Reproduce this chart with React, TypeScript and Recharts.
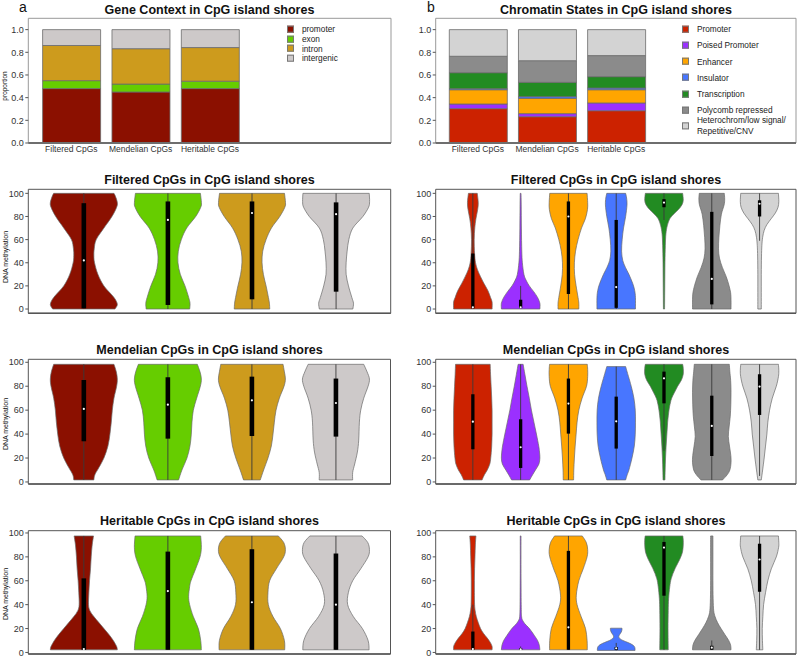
import React from "react";
import { ComposedChart, Bar, Cell, XAxis, YAxis, ReferenceArea, ReferenceLine } from "recharts";

const FONT = "'Liberation Sans', Arial, Helvetica, sans-serif";

const cpgSets = ["Filtered CpGs", "Mendelian CpGs", "Heritable CpGs"];

const geneGroups = ["promoter", "exon", "intron", "intergenic"];
const geneColors = ["#8B1000", "#66CD00", "#CD9B1D", "#CDC9C9"];

const chromStates = [
  "Promoter",
  "Poised Promoter",
  "Enhancer",
  "Insulator",
  "Transcription",
  "Polycomb repressed",
  "Heterochrom/low signal/\nRepetitive/CNV",
];
const chromColors = ["#CC2200", "#9B30FF", "#FFA500", "#4876FF", "#228B22", "#8B8B8B", "#D3D3D3"];

// stacked proportions, bottom to top
const geneFiltered = [0.48, 0.07, 0.31, 0.14];
const geneMendelian = [0.45, 0.07, 0.312, 0.168];
const geneHeritable = [0.48, 0.065, 0.297, 0.158];

const chromFiltered = [0.303, 0.041, 0.126, 0.009, 0.141, 0.145, 0.235];
const chromMendelian = [0.232, 0.027, 0.135, 0.015, 0.126, 0.191, 0.274];
const chromHeritable = [0.285, 0.068, 0.117, 0.015, 0.1, 0.186, 0.229];

// violin stats: [min, whiskerLo, q1, median, q3, whiskerHi, max]
// violin density: [value, relative half width]
const filteredGeneStats = [
  [0, 0, 0.6, 42, 91.5, 100, 100],
  [0, 0, 3.5, 77, 93, 100, 100],
  [0, 0, 8.4, 83, 93, 100, 100],
  [0, 0, 15, 82, 92.2, 100, 100],
];
const filteredGeneDensity = [
  [[0, 0.93], [4, 1.0], [10, 0.9], [20, 0.6], [30, 0.42], [40, 0.32], [46, 0.3], [52, 0.31], [60, 0.37], [70, 0.6], [80, 0.84], [88, 0.98], [92, 1.0], [97, 0.95], [100, 0.9]],
  [[0, 0.65], [5, 0.66], [10, 0.62], [20, 0.51], [30, 0.37], [40, 0.3], [50, 0.31], [60, 0.4], [70, 0.56], [80, 0.83], [88, 0.98], [92, 1.0], [100, 0.97]],
  [[0, 0.53], [5, 0.52], [10, 0.49], [20, 0.42], [30, 0.34], [40, 0.3], [50, 0.32], [60, 0.42], [70, 0.58], [80, 0.83], [88, 0.98], [92, 1.0], [100, 0.97]],
  [[0, 0.5], [5, 0.52], [10, 0.47], [20, 0.37], [30, 0.3], [40, 0.3], [50, 0.33], [60, 0.38], [70, 0.5], [80, 0.8], [88, 0.97], [93, 1.0], [100, 0.99]],
];

const filteredChromStats = [
  [0, 0, 0.5, 1.5, 48, 100, 100],
  [0, 0, 0.8, 1.5, 8, 20, 100],
  [0, 0, 13, 80, 93, 100, 100],
  [0, 0, 1, 19, 77, 100, 100],
  [0, 77, 88, 92, 95, 100, 100],
  [0, 0, 4, 26, 84, 100, 100],
  [0, 59, 80, 91, 94, 100, 100],
];
const filteredChromDensity = [
  [[0, 1.0], [6, 1.0], [10, 0.92], [16, 0.78], [22, 0.58], [28, 0.4], [34, 0.24], [40, 0.14], [48, 0.09], [60, 0.07], [70, 0.1], [78, 0.16], [86, 0.25], [92, 0.28], [100, 0.23]],
  [[0, 1.0], [5, 1.0], [10, 0.88], [15, 0.68], [20, 0.45], [25, 0.28], [30, 0.17], [40, 0.09], [50, 0.06], [70, 0.04], [90, 0.03], [100, 0.02]],
  [[0, 0.54], [5, 0.54], [10, 0.5], [20, 0.4], [30, 0.32], [40, 0.31], [50, 0.37], [60, 0.5], [70, 0.68], [78, 0.88], [86, 0.99], [92, 1.0], [100, 0.97]],
  [[0, 1.0], [10, 1.0], [16, 0.96], [22, 0.86], [30, 0.66], [36, 0.48], [42, 0.34], [50, 0.28], [60, 0.31], [70, 0.38], [80, 0.49], [90, 0.56], [96, 0.54], [100, 0.49]],
  [[0, 0.03], [20, 0.04], [40, 0.05], [55, 0.07], [65, 0.1], [72, 0.17], [78, 0.3], [82, 0.5], [86, 0.75], [90, 0.93], [94, 1.0], [100, 0.97]],
  [[0, 1.0], [8, 1.0], [14, 0.98], [20, 0.9], [28, 0.75], [36, 0.55], [44, 0.4], [52, 0.35], [62, 0.37], [72, 0.42], [82, 0.5], [90, 0.64], [95, 0.67], [100, 0.65]],
  [[0, 0.09], [10, 0.09], [30, 0.09], [45, 0.1], [55, 0.12], [62, 0.16], [68, 0.24], [73, 0.38], [78, 0.6], [83, 0.82], [88, 0.96], [93, 1.0], [100, 0.98]],
];

const mendelianGeneStats = [
  [1.7, 1.7, 34, 61, 85.2, 98.3, 98.3],
  [1.7, 1.7, 36.2, 64.6, 87.5, 98.3, 98.3],
  [1.7, 1.7, 38.4, 68.2, 88, 98.3, 98.3],
  [1.7, 1.7, 37.9, 66, 86.4, 98.3, 98.3],
];
const mendelianGeneDensity = [
  [[1.7, 0.3], [6, 0.33], [12, 0.45], [20, 0.6], [30, 0.72], [40, 0.78], [50, 0.82], [60, 0.85], [70, 0.9], [80, 0.98], [86, 1.0], [92, 0.97], [98.3, 0.9]],
  [[1.7, 0.32], [10, 0.42], [20, 0.57], [30, 0.66], [40, 0.7], [50, 0.72], [60, 0.76], [70, 0.86], [80, 0.97], [86, 1.0], [92, 0.96], [98.3, 0.88]],
  [[1.7, 0.25], [10, 0.35], [20, 0.48], [30, 0.58], [40, 0.63], [50, 0.67], [60, 0.72], [70, 0.82], [80, 0.96], [86, 1.0], [92, 0.97], [98.3, 0.93]],
  [[1.7, 0.5], [8, 0.5], [15, 0.56], [25, 0.64], [35, 0.68], [50, 0.7], [60, 0.74], [70, 0.83], [80, 0.96], [86, 1.0], [92, 0.93], [98.3, 0.83]],
];

const mendelianChromStats = [
  [1.7, 1.7, 27.3, 50.4, 73.3, 98.3, 98.3],
  [1.7, 1.7, 11.7, 29, 52.4, 98.3, 98.3],
  [1.7, 1.7, 40.4, 65.5, 86.4, 98.3, 98.3],
  [1.7, 1.7, 27.9, 50.7, 71.3, 96.4, 96.4],
  [1.7, 26, 65.7, 86.6, 92.2, 98.3, 98.3],
  [1.7, 1.7, 21.7, 46.8, 72.1, 98.3, 98.3],
  [1.7, 5, 56, 79.7, 90, 98.3, 98.3],
];
const mendelianChromDensity = [
  [[1.7, 0.48], [6, 0.6], [10, 0.75], [15, 0.88], [20, 0.93], [30, 0.98], [40, 1.0], [50, 1.0], [60, 1.0], [70, 0.98], [80, 0.95], [90, 0.92], [98.3, 0.9]],
  [[1.7, 0.47], [6, 0.62], [10, 0.77], [15, 0.95], [20, 1.0], [25, 0.98], [30, 0.94], [40, 0.82], [50, 0.69], [60, 0.56], [70, 0.45], [80, 0.33], [90, 0.22], [98.3, 0.13]],
  [[1.7, 0.27], [10, 0.28], [20, 0.31], [30, 0.35], [40, 0.4], [50, 0.45], [60, 0.54], [70, 0.71], [80, 0.94], [88, 1.0], [94, 1.0], [98.3, 0.98]],
  [[1.7, 0.49], [6, 0.57], [10, 0.66], [20, 0.82], [30, 0.94], [40, 0.99], [50, 1.0], [60, 0.99], [70, 0.92], [80, 0.78], [88, 0.64], [93, 0.55], [96.4, 0.49]],
  [[1.7, 0.05], [10, 0.06], [20, 0.08], [30, 0.11], [40, 0.15], [50, 0.19], [60, 0.26], [66, 0.33], [70, 0.4], [75, 0.55], [80, 0.71], [85, 0.9], [90, 1.0], [95, 1.0], [98.3, 0.97]],
  [[1.7, 0.56], [6, 0.8], [10, 0.94], [16, 1.0], [22, 0.99], [30, 0.92], [38, 0.86], [46, 0.9], [55, 0.96], [65, 0.99], [75, 1.0], [85, 0.98], [92, 0.94], [98.3, 0.91]],
  [[1.7, 0.09], [10, 0.16], [20, 0.24], [30, 0.31], [40, 0.38], [50, 0.43], [60, 0.52], [70, 0.66], [80, 0.87], [88, 0.98], [93, 1.0], [98.3, 0.98]],
];

const heritableGeneStats = [
  [2.2, 2.2, 2.2, 2.8, 62, 97.5, 97.5],
  [2.2, 2.2, 2.2, 51.4, 84.4, 97.5, 97.5],
  [2.2, 2.2, 2.2, 42, 86.4, 97.5, 97.5],
  [2.2, 2.2, 2.2, 40, 82.8, 97.5, 97.5],
];
const heritableGeneDensity = [
  [[2.2, 1.0], [5, 0.98], [10, 0.88], [15, 0.75], [20, 0.6], [25, 0.45], [30, 0.3], [35, 0.18], [40, 0.14], [50, 0.15], [60, 0.17], [70, 0.2], [80, 0.22], [90, 0.25], [97.5, 0.29]],
  [[2.2, 1.0], [10, 0.98], [20, 0.91], [30, 0.76], [40, 0.65], [47, 0.62], [55, 0.65], [60, 0.69], [70, 0.83], [80, 0.96], [88, 1.0], [97.5, 0.98]],
  [[2.2, 0.98], [10, 0.97], [20, 0.85], [30, 0.63], [40, 0.49], [50, 0.48], [60, 0.53], [70, 0.73], [80, 0.95], [86, 1.0], [92, 0.95], [97.5, 0.79]],
  [[2.2, 0.99], [10, 0.96], [20, 0.79], [30, 0.52], [40, 0.35], [50, 0.37], [60, 0.5], [70, 0.74], [80, 0.96], [86, 1.0], [92, 0.95], [97.5, 0.78]],
];

const heritableChromStats = [
  [2.2, 2.2, 2.2, 2.8, 17.5, 40, 97.5],
  [2.2, 2.2, 2.2, 2.5, 3.5, 5, 97.5],
  [2.2, 2.2, 2.2, 21, 85, 97.5, 97.5],
  [1.7, 1.7, 2.2, 3.5, 4.5, 8, 20.3],
  [2.2, 2.2, 47.5, 87.8, 92.5, 97.5, 97.5],
  [2.2, 2.2, 2.2, 4, 5.6, 10, 97.5],
  [2.2, 2.2, 50.8, 77.8, 91, 97.5, 97.5],
];
const heritableChromDensity = [
  [[2.2, 1.0], [5, 1.0], [8, 0.92], [12, 0.75], [16, 0.55], [20, 0.4], [25, 0.28], [30, 0.18], [35, 0.12], [40, 0.09], [50, 0.08], [60, 0.08], [70, 0.09], [80, 0.11], [90, 0.13], [97.5, 0.16]],
  [[2.2, 1.0], [6, 0.97], [10, 0.88], [14, 0.72], [18, 0.55], [21, 0.4], [24, 0.22], [27, 0.1], [30, 0.05], [40, 0.03], [70, 0.02], [97.5, 0.02]],
  [[2.2, 0.98], [10, 0.97], [20, 0.89], [30, 0.66], [40, 0.45], [48, 0.41], [60, 0.54], [70, 0.77], [80, 0.97], [86, 1.0], [92, 0.93], [97.5, 0.72]],
  [[1.7, 0.98], [4, 0.97], [5.6, 0.91], [7, 0.78], [8.3, 0.61], [10, 0.35], [11.5, 0.2], [13, 0.13], [15, 0.18], [17, 0.26], [19, 0.3], [20.3, 0.3]],
  [[2.2, 0.22], [20, 0.21], [35, 0.22], [45, 0.24], [55, 0.3], [62, 0.38], [70, 0.57], [78, 0.82], [84, 0.96], [90, 1.0], [94, 1.0], [97.5, 0.98]],
  [[2.2, 1.0], [6, 0.98], [10, 0.88], [15, 0.68], [20, 0.48], [25, 0.3], [30, 0.17], [35, 0.1], [45, 0.07], [60, 0.06], [80, 0.06], [97.5, 0.06]],
  [[2.2, 0.17], [10, 0.15], [20, 0.14], [30, 0.17], [40, 0.21], [50, 0.31], [60, 0.43], [70, 0.61], [80, 0.87], [88, 0.99], [92, 1.0], [97.5, 0.98]],
];

const methTicks = [0, 20, 40, 60, 80, 100];
const propTicks = [0, 0.2, 0.4, 0.6, 0.8, 1.0];

const YAXIS_W = 25;

type Frame = { x0: number; y0: number; w: number; h: number; L: number; T: number; R: number; B: number };

function marginFor(f: Frame, xAxisH: number) {
  return {
    left: f.L - f.x0 - YAXIS_W,
    top: f.T - f.y0,
    right: f.x0 + f.w - f.R,
    bottom: f.y0 + f.h - f.B - xAxisH,
  };
}

// catmull-rom through points -> cubic bezier segments
function smooth(pts: number[][]) {
  let d = "";
  for (let i = 0; i < pts.length - 1; i++) {
    const p0 = pts[i - 1] || pts[i];
    const p1 = pts[i];
    const p2 = pts[i + 1];
    const p3 = pts[i + 2] || p2;
    const c1x = p1[0] + (p2[0] - p0[0]) / 6;
    const c1y = p1[1] + (p2[1] - p0[1]) / 6;
    const c2x = p2[0] - (p3[0] - p1[0]) / 6;
    const c2y = p2[1] - (p3[1] - p1[1]) / 6;
    d += ` C${c1x},${c1y} ${c2x},${c2y} ${p2[0]},${p2[1]}`;
  }
  return d;
}

function ViolinShape(props: any) {
  const { x, y, width, height, payload, fill, boxW } = props;
  const top = Math.min(y, y + height);
  const bottom = Math.max(y, y + height);
  const [lo, wlo, q1, med, q3, whi, hi] = payload.stats;
  const toY = (v: number) => top + ((hi - v) / (hi - lo)) * (bottom - top);
  const cx = x + width / 2;
  const half = width / 2;

  const prof = [...payload.density].sort((a: number[], b: number[]) => b[0] - a[0]);
  const right = prof.map(([v, w]: number[]) => [cx + w * half, toY(v)]);
  const left = prof.map(([v, w]: number[]) => [cx - w * half, toY(v)]).reverse();

  let d = `M${left[left.length - 1][0]},${right[0][1]} L${right[0][0]},${right[0][1]}`;
  d += smooth(right);
  d += ` L${left[0][0]},${left[0][1]}`;
  d += smooth(left);
  d += " Z";

  return (
    <g>
      <path d={d} fill={fill} stroke="#6a6a6a" strokeWidth={0.7} />
      <line x1={cx} x2={cx} y1={toY(whi)} y2={toY(wlo)} stroke="#3a3a3a" strokeWidth={0.9} />
      <rect x={cx - boxW / 2} y={toY(q3)} width={boxW} height={Math.max(toY(q1) - toY(q3), 0.8)} fill="#000" />
      <circle cx={cx} cy={toY(med)} r={1.1} fill="#fff" />
    </g>
  );
}

function ViolinPanel({ frame, stats, density, colors, xDomain, yDomain, violinW, boxW }: any) {
  const data = stats.map((s: number[], i: number) => ({
    pos: i,
    range: [s[0], s[6]],
    stats: s,
    density: density[i],
  }));
  return (
    <div style={{ position: "absolute", left: frame.x0, top: frame.y0 }}>
      <ComposedChart width={frame.w} height={frame.h} data={data} margin={marginFor(frame, 0)}>
        <XAxis
          type="number"
          dataKey="pos"
          domain={xDomain}
          allowDataOverflow
          ticks={stats.map((_: any, i: number) => i)}
          hide
        />
        <YAxis
          type="number"
          domain={yDomain}
          allowDataOverflow
          ticks={methTicks}
          interval={0}
          width={YAXIS_W}
          axisLine={false}
          tickSize={3}
          tickMargin={1.5}
          tickLine={{ stroke: "#555" }}
          tick={{ fontSize: 9, fill: "#333", fontFamily: FONT }}
        />
        <ReferenceArea
          x1={xDomain[0]}
          x2={xDomain[1]}
          y1={yDomain[0]}
          y2={yDomain[1]}
          fill="none"
          stroke="#555"
          strokeWidth={1}
          ifOverflow="visible"
        />
        <ReferenceLine y={yDomain[0]} stroke="#555" strokeWidth={1.6} ifOverflow="visible" />
        <Bar
          dataKey="range"
          barSize={violinW}
          isAnimationActive={false}
          shape={(p: any) => <ViolinShape {...p} boxW={boxW} />}
        >
          {data.map((_: any, i: number) => (
            <Cell key={i} fill={colors[i]} />
          ))}
        </Bar>
      </ComposedChart>
    </div>
  );
}

function StackedPanel({ frame, rows, names, colors, xDomain }: any) {
  const keys = names.map((_: string, i: number) => `s${i}`);
  const table = cpgSets.map((set, i) => {
    const row: any = { pos: i, name: set };
    rows[i].forEach((v: number, k: number) => (row[`s${k}`] = v));
    return row;
  });
  return (
    <div style={{ position: "absolute", left: frame.x0, top: frame.y0 }}>
      <ComposedChart width={frame.w} height={frame.h} data={table} margin={marginFor(frame, 20)}>
        <XAxis
          type="number"
          dataKey="pos"
          domain={xDomain}
          allowDataOverflow
          ticks={[0, 1, 2]}
          interval={0}
          tickFormatter={(i: number) => cpgSets[i]}
          tickLine={false}
          tickSize={0}
          tickMargin={2.5}
          height={20}
          axisLine={{ stroke: "#6e6e6e", strokeWidth: 2 }}
          tick={{ fontSize: 8.5, fill: "#333", fontFamily: FONT }}
        />
        <YAxis
          type="number"
          domain={[0, 1.1]}
          allowDataOverflow
          ticks={propTicks}
          interval={0}
          tickFormatter={(v: number) => v.toFixed(1)}
          width={YAXIS_W}
          axisLine={false}
          tickSize={3}
          tickMargin={1.5}
          tickLine={{ stroke: "#555" }}
          tick={{ fontSize: 9, fill: "#333", fontFamily: FONT }}
        />
        <ReferenceArea
          x1={xDomain[0]}
          x2={xDomain[1]}
          y1={0}
          y2={1.1}
          fill="none"
          stroke="#999"
          strokeWidth={1}
          ifOverflow="visible"
        />
        {keys.map((k: string, i: number) => (
          <Bar
            key={k}
            dataKey={k}
            stackId="s"
            fill={colors[i]}
            stroke="#6b6b6b"
            strokeWidth={0.8}
            barSize={58}
            isAnimationActive={false}
          />
        ))}
      </ComposedChart>
    </div>
  );
}

function Legend({ names, colors, x, y, step, fontSize }: any) {
  return (
    <>
      {names.map((n: string, i: number) => (
        <div
          key={n}
          style={{
            position: "absolute",
            left: x,
            top: y + i * step,
            transform: "translateY(-50%)",
            display: "flex",
            alignItems: "center",
            fontSize,
            lineHeight: `${fontSize * 1.28}px`,
            color: "#222",
            whiteSpace: "pre",
          }}
        >
          <div
            style={{
              width: 5,
              height: 5,
              background: colors[i],
              border: "0.6px solid #777",
              marginRight: fontSize * 0.95,
              flex: "none",
            }}
          />
          <span>{n}</span>
        </div>
      ))}
    </>
  );
}

function Txt({ x, y, children, size, bold, rotate }: any) {
  return (
    <div
      style={{
        position: "absolute",
        left: x,
        top: y,
        transform: `translate(-50%, -50%)${rotate ? " rotate(-90deg)" : ""}`,
        fontSize: size,
        fontWeight: bold ? "bold" : "normal",
        color: "#111",
        whiteSpace: "nowrap",
        lineHeight: 1,
      }}
    >
      {children}
    </div>
  );
}

const leftX = [-0.655, 3.655];
const rightX = [-0.77, 6.77];

export default function App() {
  return (
    <div
      style={{
        position: "absolute",
        left: 0,
        top: 0,
        width: 799,
        height: 657,
        background: "#fff",
        fontFamily: FONT,
        overflow: "hidden",
      }}
    >
      <StackedPanel
        frame={{ x0: 0, y0: 0, w: 400, h: 165, L: 28.3, T: 18.3, R: 391, B: 143 }}
        rows={[geneFiltered, geneMendelian, geneHeritable]}
        names={geneGroups}
        colors={geneColors}
        xDomain={[-0.62, 4.61]}
      />
      <StackedPanel
        frame={{ x0: 400, y0: 0, w: 399, h: 165, L: 435.7, T: 18.3, R: 796, B: 143 }}
        rows={[chromFiltered, chromMendelian, chromHeritable]}
        names={chromStates}
        colors={chromColors}
        xDomain={[-0.61, 4.6]}
      />

      <ViolinPanel
        frame={{ x0: 0, y0: 165, w: 400, h: 155, L: 28.3, T: 189.3, R: 390.7, B: 313.3 }}
        stats={filteredGeneStats}
        density={filteredGeneDensity}
        colors={geneColors}
        xDomain={leftX}
        yDomain={[-3.7, 103.5]}
        violinW={67}
        boxW={4.6}
      />
      <ViolinPanel
        frame={{ x0: 400, y0: 165, w: 399, h: 155, L: 435.7, T: 189.3, R: 796, B: 313.3 }}
        stats={filteredChromStats}
        density={filteredChromDensity}
        colors={chromColors}
        xDomain={rightX}
        yDomain={[-3.7, 103.5]}
        violinW={38.5}
        boxW={3.3}
      />
      <ViolinPanel
        frame={{ x0: 0, y0: 320, w: 400, h: 170, L: 28.3, T: 359.3, R: 390.5, B: 484 }}
        stats={mendelianGeneStats}
        density={mendelianGeneDensity}
        colors={geneColors}
        xDomain={leftX}
        yDomain={[-1.7, 102.5]}
        violinW={67}
        boxW={4.6}
      />
      <ViolinPanel
        frame={{ x0: 400, y0: 320, w: 399, h: 170, L: 435.7, T: 359.3, R: 796, B: 484 }}
        stats={mendelianChromStats}
        density={mendelianChromDensity}
        colors={chromColors}
        xDomain={rightX}
        yDomain={[-1.7, 102.5]}
        violinW={38.5}
        boxW={3.3}
      />
      <ViolinPanel
        frame={{ x0: 0, y0: 490, w: 400, h: 167, L: 28.3, T: 530.7, R: 390.5, B: 654 }}
        stats={heritableGeneStats}
        density={heritableGeneDensity}
        colors={geneColors}
        xDomain={leftX}
        yDomain={[-1.3, 101.9]}
        violinW={67}
        boxW={4.6}
      />
      <ViolinPanel
        frame={{ x0: 400, y0: 490, w: 399, h: 167, L: 435.7, T: 530.7, R: 796, B: 654 }}
        stats={heritableChromStats}
        density={heritableChromDensity}
        colors={chromColors}
        xDomain={rightX}
        yDomain={[-1.3, 101.9]}
        violinW={38.5}
        boxW={3.3}
      />

      <Legend names={geneGroups} colors={geneColors} x={287} y={29} step={9.8} fontSize={8.3} />
      <Legend names={chromStates} colors={chromColors} x={682} y={29.3} step={16.1} fontSize={8.3} />

      <Txt x={23} y={7} size={14}>a</Txt>
      <Txt x={431} y={7} size={14}>b</Txt>

      <Txt x={209.5} y={9.5} size={12.5} bold>Gene Context in CpG island shores</Txt>
      <Txt x={616} y={9.5} size={12.5} bold>Chromatin States in CpG island shores</Txt>
      <Txt x={209.5} y={179.5} size={12.5} bold>Filtered CpGs in CpG island shores</Txt>
      <Txt x={616} y={179.5} size={12.5} bold>Filtered CpGs in CpG island shores</Txt>
      <Txt x={209.5} y={350} size={12.5} bold>Mendelian CpGs in CpG island shores</Txt>
      <Txt x={616} y={350} size={12.5} bold>Mendelian CpGs in CpG island shores</Txt>
      <Txt x={209.5} y={521} size={12.5} bold>Heritable CpGs in CpG island shores</Txt>
      <Txt x={616} y={521} size={12.5} bold>Heritable CpGs in CpG island shores</Txt>

      <Txt x={5} y={86} size={6.5} rotate>proportion</Txt>
      <Txt x={5} y={257} size={7} rotate>DNA methylation</Txt>
      <Txt x={5} y={424} size={7} rotate>DNA methylation</Txt>
      <Txt x={5} y={594} size={7} rotate>DNA methylation</Txt>
    </div>
  );
}
